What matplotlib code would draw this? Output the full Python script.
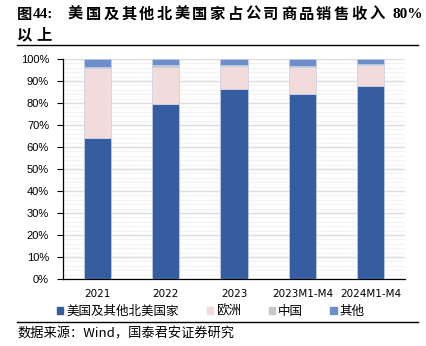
import matplotlib
matplotlib.use("Agg")
import matplotlib.pyplot as plt
from matplotlib.patches import Rectangle
from matplotlib.lines import Line2D
import numpy as np

plt.rcParams['font.family'] = ['Noto Sans CJK SC', 'DejaVu Sans']

categories = ["2021", "2022", "2023", "2023M1-M4", "2024M1-M4"]
us_na = [64.0, 79.5, 86.2, 84.2, 87.9]
europe = [32.1, 16.8, 10.8, 12.1, 9.5]
china = [0.3, 1.0, 0.5, 0.7, 0.3]
other = [3.6, 2.7, 2.5, 3.0, 2.3]
series_names = ["美国及其他北美国家", "欧洲", "中国", "其他"]
colors = ["#355DA0", "#F2DCDB", "#C8C8C8", "#6E8DCB"]

title_label = "图44:"
title_body = "美国及其他北美国家占公司商品销售收入"
title_tail = "80%"
title_line2 = "以上"
source = "数据来源：Wind，国泰君安证券研究"

W, H = 427, 346
fig = plt.figure(figsize=(W / 100, H / 100), dpi=100)

def px(xp):
    return xp / W

def py(yp):
    return 1 - yp / H

# axes: left 63, right 405, top 59, bottom 279 (pixels)
ax = fig.add_axes([px(63), py(279), (405 - 63) / W, (279 - 59) / H])
x = np.arange(len(categories))
bottom = np.zeros(len(categories))
for vals, c in zip([us_na, europe, china, other], colors):
    v = np.array(vals) / 100.0
    ax.bar(x, v, bottom=bottom, width=0.4, color=c, edgecolor="#C5D0E6",
           linewidth=0.5, zorder=3)
    bottom += v

ax.set_xlim(-0.5, len(categories) - 0.5)
ax.set_ylim(0, 1.0)
yt = np.arange(0, 1.01, 0.1)
ax.set_yticks(yt)
ax.set_yticklabels([f"{int(round(t * 100))}%" for t in yt],
                   family=["Liberation Sans"], fontsize=8)
ax.set_yticks(np.arange(0, 1.01, 0.02), minor=True)
ax.set_xticks(x)
ax.set_xticklabels(categories, family=["DejaVu Sans"], fontsize=7.5)
ax.grid(axis="y", which="major", color="#DCDCDC", linewidth=1.0, zorder=0)
ax.grid(axis="y", which="minor", color="#F3F3F3", linewidth=0.8, zorder=0)
ax.tick_params(axis="y", which="major", direction="out", length=4, width=0.8,
               color="black", pad=6)
ax.tick_params(axis="y", which="minor", length=0)
ax.tick_params(axis="x", length=0, pad=7)
for s in ["top", "right"]:
    ax.spines[s].set_visible(False)
for s in ["left", "bottom"]:
    ax.spines[s].set_color("black")
    ax.spines[s].set_linewidth(0.9)

# Title (characters spaced like the reference)
tfs = 11
fig.text(px(17), py(14), title_label[0], fontsize=tfs, fontweight="bold",
         ha="left", va="center")
fig.text(px(33), py(14), title_label[1:], fontsize=tfs, fontweight="bold",
         family=["Liberation Serif"], ha="left", va="center")
step = (387 - 68) / len(title_body)
for i, ch in enumerate(title_body):
    fig.text(px(68 + i * step), py(14), ch, fontsize=tfs, fontweight="bold",
             ha="left", va="center")
fig.text(px(393), py(14), title_tail, fontsize=tfs, fontweight="bold",
         family=["Liberation Serif"], ha="left", va="center")
for i, ch in enumerate(title_line2):
    fig.text(px(17 + i * 19), py(34), ch, fontsize=tfs, fontweight="bold",
             ha="left", va="center")
fig.add_artist(Line2D([px(17), px(418)], [py(45), py(45)],
                      color="black", linewidth=1.0))

# Legend
handles = [Rectangle((0, 0), 1, 1, color=c) for c in colors]
fig.legend(handles, series_names, loc="center", ncol=4,
           bbox_to_anchor=(px(211), py(311)), frameon=False,
           fontsize=9, handlelength=0.5, handleheight=0.5,
           handletextpad=0.25, columnspacing=2.2)

fig.add_artist(Line2D([px(17), px(418)], [py(322), py(322)],
                      color="black", linewidth=1.0))
fig.text(px(17), py(334), source, fontsize=9.5, ha="left", va="center")

fig.savefig("out.png", dpi=100)
